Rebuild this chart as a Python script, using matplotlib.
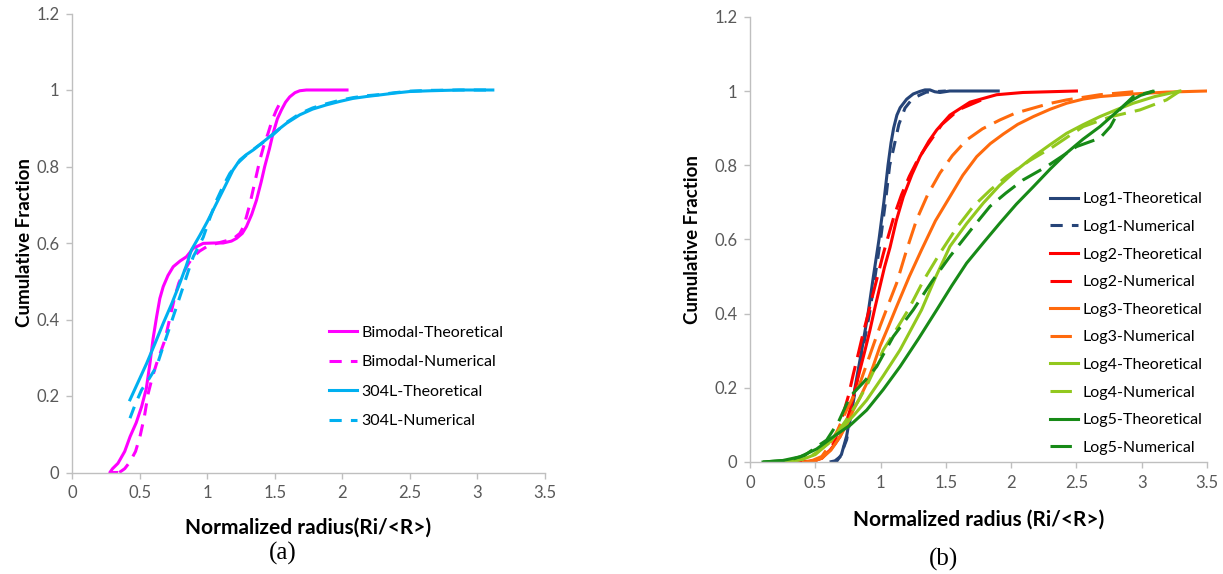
import matplotlib
matplotlib.use("Agg")
import matplotlib.pyplot as plt

# ---------------- data: panel (a) ----------------
bim_theo_x = [0.33, 0.28, 0.30, 0.34, 0.39, 0.43, 0.475, 0.515, 0.55, 0.577, 0.60, 0.626, 0.65, 0.675, 0.71,
              0.749, 0.80, 0.847, 0.897, 0.971, 1.05, 1.118, 1.18, 1.217, 1.26, 1.291, 1.33, 1.365, 1.40,
              1.426, 1.46, 1.488, 1.52, 1.55, 1.58, 1.611, 1.65, 1.685, 1.734, 2.035]
bim_theo_y = [0.0, 0.0, 0.01, 0.024, 0.055, 0.094, 0.13, 0.172, 0.22, 0.286, 0.35, 0.407, 0.455, 0.486,
              0.515, 0.538, 0.553, 0.564, 0.586, 0.599, 0.600, 0.600, 0.605, 0.612, 0.625, 0.643, 0.675,
              0.712, 0.76, 0.800, 0.845, 0.887, 0.925, 0.948, 0.968, 0.982, 0.993, 0.998, 1.0, 1.0]

bim_num_x = [0.35, 0.39, 0.429, 0.47, 0.503, 0.535, 0.564, 0.595, 0.626, 0.687, 0.725, 0.761, 0.79, 0.823,
             0.86, 0.897, 0.945, 0.995, 1.07, 1.143, 1.20, 1.242, 1.27, 1.291, 1.315, 1.34, 1.365, 1.39,
             1.42, 1.451, 1.48, 1.513, 1.55]
bim_num_y = [0.0, 0.01, 0.028, 0.055, 0.094, 0.145, 0.207, 0.25, 0.285, 0.346, 0.405, 0.46, 0.495, 0.521,
             0.545, 0.564, 0.579, 0.59, 0.599, 0.606, 0.613, 0.625, 0.643, 0.669, 0.70, 0.739, 0.778,
             0.817, 0.855, 0.887, 0.92, 0.948, 0.974]

l304_theo_x = [0.429, 0.49, 0.552, 0.615, 0.675, 0.74, 0.798, 0.845, 0.884, 0.946, 1.0, 1.044, 1.095,
               1.143, 1.19, 1.242, 1.29, 1.34, 1.40, 1.463, 1.525, 1.587, 1.685, 1.78, 1.882, 1.98, 2.079,
               2.18, 2.276, 2.39, 2.498, 2.65, 2.867, 3.114]
l304_theo_y = [0.19, 0.237, 0.285, 0.338, 0.39, 0.443, 0.495, 0.54, 0.582, 0.62, 0.655, 0.686, 0.722,
               0.756, 0.79, 0.817, 0.831, 0.843, 0.86, 0.878, 0.896, 0.913, 0.935, 0.95, 0.961, 0.97, 0.978,
               0.983, 0.987, 0.992, 0.996, 0.998, 1.0, 1.0]

l304_num_x = [0.429, 0.47, 0.515, 0.57, 0.626, 0.675, 0.724, 0.775, 0.823, 0.86, 0.897, 0.935, 0.971,
              1.02, 1.07, 1.12, 1.168, 1.23, 1.29, 1.37, 1.463, 1.587, 1.685, 1.78, 1.882, 1.98, 2.079,
              2.18, 2.276, 2.39, 2.498, 2.65, 2.867, 3.114]
l304_num_y = [0.142, 0.18, 0.216, 0.245, 0.277, 0.33, 0.381, 0.435, 0.486, 0.526, 0.564, 0.59, 0.615,
              0.665, 0.712, 0.75, 0.782, 0.81, 0.83, 0.852, 0.875, 0.915, 0.938, 0.953, 0.964, 0.973, 0.98,
              0.985, 0.988, 0.993, 0.997, 0.999, 1.0, 1.0]

# ---------------- data: panel (b) ----------------
log1_theo_x = [0.66, 0.70, 0.74, 0.77, 0.804, 0.855, 0.904, 0.945, 0.988, 1.025, 1.057, 1.08, 1.10, 1.125,
               1.15, 1.2, 1.25, 1.302, 1.34, 1.378, 1.415, 1.455, 1.53, 1.901]
log1_theo_y = [0.0, 0.02, 0.07, 0.13, 0.2, 0.3, 0.4, 0.5, 0.6, 0.7, 0.8, 0.86, 0.9, 0.935, 0.955, 0.978,
               0.992, 0.999, 1.003, 1.003, 0.998, 0.996, 1.0, 1.0]
log1_num_x = [0.61, 0.65, 0.69, 0.74, 0.775, 0.81, 0.862, 0.915, 0.958, 1.0, 1.037, 1.07, 1.097, 1.14,
              1.187, 1.23, 1.276, 1.35, 1.5]
log1_num_y = [0.0, 0.003, 0.014, 0.06, 0.13, 0.2, 0.3, 0.4, 0.5, 0.6, 0.7, 0.8, 0.841, 0.91, 0.954, 0.973,
              0.985, 0.997, 1.0]

log2_theo_x = [0.36, 0.45, 0.51, 0.56, 0.613, 0.65, 0.689, 0.73, 0.766, 0.80, 0.842, 0.88, 0.919, 0.955,
               0.995, 1.03, 1.072, 1.12, 1.174, 1.24, 1.302, 1.37, 1.43, 1.531, 1.685, 1.889, 2.09, 2.5]
log2_theo_y = [0.0, 0.002, 0.005, 0.015, 0.032, 0.048, 0.068, 0.1, 0.14, 0.19, 0.248, 0.3, 0.356, 0.413,
               0.473, 0.525, 0.578, 0.65, 0.715, 0.775, 0.823, 0.865, 0.895, 0.935, 0.97, 0.99, 0.996, 1.0]
log2_num_x = [0.45, 0.55, 0.60, 0.64, 0.68, 0.715, 0.755, 0.79, 0.828, 0.865, 0.905, 0.94, 0.98, 1.02,
              1.06, 1.105, 1.16, 1.22, 1.285, 1.35, 1.47, 1.6, 1.8]
log2_num_y = [0.0, 0.01, 0.028, 0.05, 0.088, 0.131, 0.18, 0.235, 0.29, 0.345, 0.4, 0.45, 0.505, 0.56,
              0.61, 0.665, 0.72, 0.77, 0.815, 0.85, 0.91, 0.95, 0.98]

log3_theo_x = [0.41, 0.50, 0.55, 0.62, 0.689, 0.74, 0.791, 0.84, 0.894, 0.945, 0.995, 1.06, 1.123, 1.22,
               1.314, 1.42, 1.531, 1.63, 1.736, 1.84, 1.94, 2.05, 2.17, 2.30, 2.425, 2.55, 2.68, 2.935,
               3.19, 3.497]
log3_theo_y = [0.0, 0.004, 0.01, 0.032, 0.068, 0.1, 0.14, 0.172, 0.212, 0.26, 0.311, 0.365, 0.419, 0.5,
               0.572, 0.65, 0.715, 0.773, 0.823, 0.858, 0.884, 0.91, 0.931, 0.951, 0.967, 0.978, 0.985,
               0.992, 0.997, 1.0]
log3_num_x = [0.45, 0.55, 0.60, 0.67, 0.74, 0.79, 0.842, 0.92, 0.995, 1.06, 1.123, 1.2, 1.276, 1.36, 1.455,
              1.55, 1.659, 1.78, 1.914, 2.03, 2.16, 2.29, 2.425, 2.68, 3.0]
log3_num_y = [0.0, 0.015, 0.04, 0.085, 0.14, 0.175, 0.212, 0.29, 0.365, 0.425, 0.482, 0.572, 0.653, 0.72,
              0.779, 0.826, 0.868, 0.898, 0.922, 0.94, 0.953, 0.966, 0.976, 0.99, 1.0]

log4_theo_x = [0.3, 0.4, 0.5, 0.6, 0.715, 0.80, 0.894, 1.02, 1.149, 1.314, 1.42, 1.531, 1.66, 1.787, 1.91,
               2.042, 2.17, 2.297, 2.425, 2.55, 2.68, 2.81, 2.935, 3.1, 3.293]
log4_theo_y = [0.0, 0.007, 0.02, 0.05, 0.095, 0.128, 0.167, 0.232, 0.302, 0.41, 0.497, 0.581, 0.643, 0.698,
               0.745, 0.787, 0.823, 0.855, 0.886, 0.909, 0.931, 0.95, 0.967, 0.985, 1.0]
log4_num_x = [0.25, 0.35, 0.45, 0.52, 0.6, 0.675, 0.75, 0.83, 0.9, 0.96, 1.021, 1.12, 1.212, 1.33, 1.455,
              1.58, 1.71, 1.84, 1.966, 2.14, 2.322, 2.44, 2.552, 2.756, 2.986, 3.19, 3.293]
log4_num_y = [0.0, 0.004, 0.012, 0.028, 0.05, 0.082, 0.12, 0.165, 0.21, 0.255, 0.302, 0.357, 0.41, 0.49,
              0.563, 0.63, 0.689, 0.733, 0.77, 0.812, 0.85, 0.878, 0.904, 0.93, 0.949, 0.976, 1.0]

log5_theo_x = [0.1, 0.25, 0.383, 0.51, 0.638, 0.77, 0.894, 1.02, 1.149, 1.29, 1.43, 1.545, 1.659, 1.79,
               1.914, 2.04, 2.17, 2.30, 2.425, 2.55, 2.68, 2.79, 2.884, 2.99, 3.088]
log5_theo_y = [0.0, 0.004, 0.014, 0.035, 0.068, 0.1, 0.14, 0.195, 0.257, 0.332, 0.41, 0.475, 0.536, 0.592,
               0.644, 0.695, 0.742, 0.79, 0.833, 0.87, 0.904, 0.938, 0.967, 0.988, 0.999]
log5_num_x = [0.1, 0.3, 0.42, 0.51, 0.587, 0.68, 0.766, 0.87, 0.97, 1.097, 1.25, 1.39, 1.531, 1.69, 1.838,
              1.96, 2.09, 2.27, 2.5, 2.68, 2.76, 2.83, 2.935, 3.09]
log5_num_y = [0.0, 0.005, 0.018, 0.041, 0.059, 0.11, 0.176, 0.215, 0.257, 0.338, 0.41, 0.485, 0.554,
              0.625, 0.689, 0.725, 0.76, 0.796, 0.85, 0.873, 0.904, 0.949, 0.985, 1.0]

x_ticks = [0, 0.5, 1, 1.5, 2, 2.5, 3, 3.5]
x_ticklabels = ["0", "0.5", "1", "1.5", "2", "2.5", "3", "3.5"]
y_ticks = [0, 0.2, 0.4, 0.6, 0.8, 1.0, 1.2]
y_ticklabels = ["0", "0.2", "0.4", "0.6", "0.8", "1", "1.2"]

# ---------------- style ----------------
plt.rcParams['font.family'] = ['Lato', 'DejaVu Sans']
LW = 2.2
SHORT = (0, (4, 3))
LONG = (0, (7, 3))
SPINE = '#BFBFBF'
TICKC = '#595959'
LEG_FS = 11.5

fig = plt.figure(figsize=(12.23, 5.74), dpi=100)
axA = fig.add_axes([72 / 1223, 101.5 / 574, 473 / 1223, 459 / 574])
axB = fig.add_axes([750 / 1223, 112 / 574, 457 / 1223, 445.2 / 574])


def style(ax, ylabelpad):
    ax.set_xlim(0, 3.5)
    ax.set_ylim(0, 1.2)
    ax.set_xticks(x_ticks)
    ax.set_xticklabels(x_ticklabels)
    ax.set_yticks(y_ticks)
    ax.set_yticklabels(y_ticklabels)
    for s in ['top', 'right']:
        ax.spines[s].set_visible(False)
    for s in ['left', 'bottom']:
        ax.spines[s].set_color(SPINE)
        ax.spines[s].set_linewidth(1.0)
    ax.tick_params(axis='both', direction='out', length=4, width=1, color=SPINE,
                   labelcolor=TICKC, labelsize=12, pad=5)
    ax.set_ylabel("Cumulative Fraction", fontsize=13.5, fontweight='bold', labelpad=ylabelpad)


# ---- panel (a)
style(axA, 2.5)
axA.plot(bim_theo_x, bim_theo_y, color='#FF00FF', lw=LW, label='Bimodal-Theoretical')
axA.plot(bim_num_x, bim_num_y, color='#FF00FF', lw=LW, ls=SHORT, label='Bimodal-Numerical')
axA.plot(l304_theo_x, l304_theo_y, color='#00B0F0', lw=LW, label='304L-Theoretical')
axA.plot(l304_num_x, l304_num_y, color='#00B0F0', lw=LW, ls=SHORT, label='304L-Numerical')
axA.set_xlabel("Normalized radius(Ri/<R>)", fontsize=15, fontweight='bold', labelpad=12)
axA.legend(loc='upper left', bbox_to_anchor=(0.543, 0.32), frameon=False, fontsize=LEG_FS,
           handlelength=1.74, handletextpad=0.31, labelspacing=0.96, borderpad=0, borderaxespad=0)

# ---- panel (b)
style(axB, 9.5)
axB.plot(log1_theo_x, log1_theo_y, color='#264478', lw=LW, label='Log1-Theoretical')
axB.plot(log1_num_x, log1_num_y, color='#264478', lw=LW, ls=SHORT, label='Log1-Numerical')
axB.plot(log2_theo_x, log2_theo_y, color='#FF0000', lw=LW, label='Log2-Theoretical')
axB.plot(log2_num_x, log2_num_y, color='#FF0000', lw=LW, ls=LONG, label='Log2-Numerical')
axB.plot(log3_theo_x, log3_theo_y, color='#FF6A0D', lw=LW, label='Log3-Theoretical')
axB.plot(log3_num_x, log3_num_y, color='#FF6A0D', lw=LW, ls=LONG, label='Log3-Numerical')
axB.plot(log4_theo_x, log4_theo_y, color='#92C81E', lw=LW, label='Log4-Theoretical')
axB.plot(log4_num_x, log4_num_y, color='#92C81E', lw=LW, ls=LONG, label='Log4-Numerical')
axB.plot(log5_theo_x, log5_theo_y, color='#178A17', lw=LW, label='Log5-Theoretical')
axB.plot(log5_num_x, log5_num_y, color='#178A17', lw=LW, ls=LONG, label='Log5-Numerical')
axB.set_xlabel("Normalized radius (Ri/<R>)", fontsize=15, fontweight='bold', labelpad=14)
axB.legend(loc='upper left', bbox_to_anchor=((1050 - 750) / 457, 0.606), frameon=False,
           fontsize=LEG_FS, handlelength=1.74, handletextpad=0.31, labelspacing=0.84, borderpad=0,
           borderaxespad=0)

fig.text(283 / 1223, 1 - 553 / 574, "(a)", family='Liberation Serif', fontsize=18, ha='center', va='center')
fig.text(943 / 1223, 1 - 559 / 574, "(b)", family='Liberation Serif', fontsize=18, ha='center', va='center')

fig.savefig("out.png", dpi=100)
